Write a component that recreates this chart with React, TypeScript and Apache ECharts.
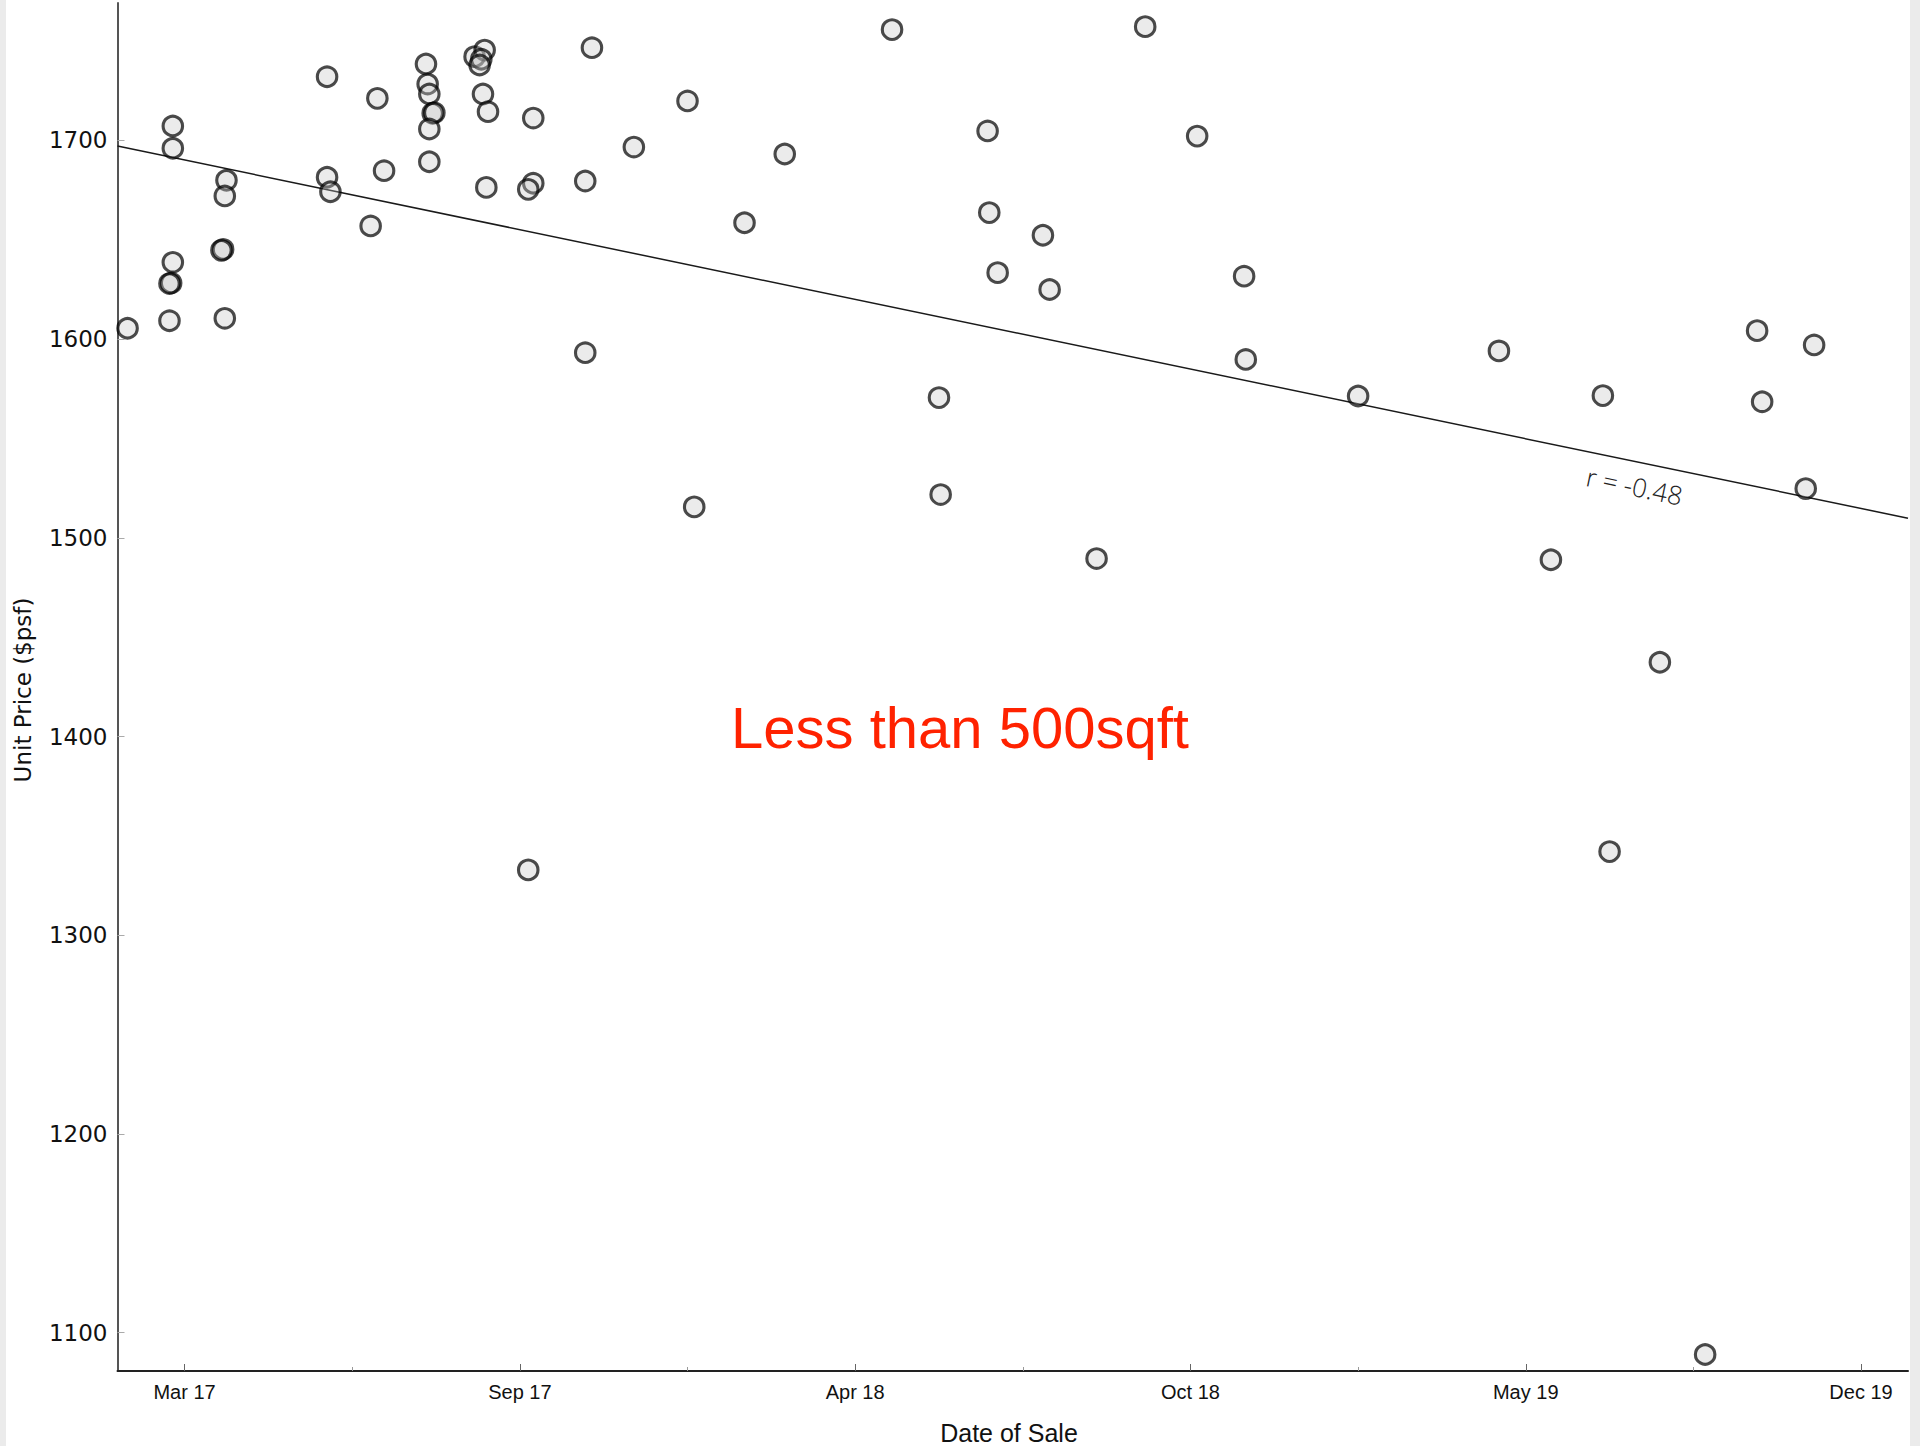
import React, { useEffect, useRef } from "react";
import * as echarts from "echarts";

// ---- data ----
const saleDates = [
  "2017-02-01", "2017-02-28", "2017-02-28", "2017-02-28", "2017-02-27", "2017-02-26", "2017-02-26",
  "2017-04-01", "2017-03-31", "2017-03-30", "2017-03-29", "2017-03-31",
  "2017-05-31", "2017-05-31", "2017-06-02", "2017-06-30", "2017-07-04", "2017-06-26",
  "2017-07-29", "2017-07-30", "2017-07-31", "2017-08-02", "2017-08-03", "2017-07-31", "2017-07-31",
  "2017-08-27", "2017-09-02", "2017-08-31", "2017-08-30", "2017-09-01", "2017-09-04", "2017-09-03",
  "2017-10-01", "2017-10-01", "2017-09-28", "2017-09-28",
  "2017-11-05", "2017-11-01", "2017-11-01", "2017-11-30",
  "2018-01-01", "2018-01-05", "2018-02-04", "2018-02-28",
  "2018-05-03", "2018-05-31", "2018-06-01", "2018-06-29", "2018-06-30", "2018-07-05",
  "2018-08-01", "2018-08-05", "2018-09-02", "2018-10-01", "2018-11-01", "2018-11-29", "2018-11-30",
  "2019-02-05", "2019-04-30", "2019-05-31", "2019-07-01", "2019-07-05", "2019-08-04", "2019-08-31",
  "2019-10-01", "2019-10-04", "2019-10-30", "2019-11-04",
];
const unitPrices = [
  1605.5, 1707.3, 1696.1, 1638.7, 1628.3, 1628.0, 1609.3,
  1680.0, 1672.1, 1645.2, 1644.7, 1610.5,
  1732.1, 1681.5, 1674.2, 1721.2, 1684.8, 1657.0,
  1738.5, 1728.4, 1723.4, 1713.7, 1714.0, 1705.8, 1689.3,
  1742.2, 1745.5, 1740.9, 1738.0, 1723.4, 1714.5, 1676.4,
  1711.3, 1678.5, 1675.4, 1332.9,
  1746.7, 1679.6, 1593.2, 1696.7,
  1719.9, 1515.6, 1658.6, 1693.2,
  1755.8, 1570.6, 1521.8, 1704.8, 1663.7, 1633.5,
  1652.3, 1625.0, 1489.6, 1757.3, 1702.2, 1631.7, 1589.8,
  1571.4, 1594.1, 1489.0, 1571.6, 1342.1, 1437.4, 1089.0,
  1604.3, 1568.5, 1524.8, 1597.1,
];
const trendPrices = [1697.2, 1509.9]; // regression line at the two ends of the date axis
const dateRange = ["2017-01-26", "2019-12-30"];
const priceRange = [1080.7, 1769.2];
const priceTicks = [1100, 1200, 1300, 1400, 1500, 1600, 1700];
const majorTickDates = ["2017-03-07", "2017-09-23", "2018-04-11", "2018-10-28", "2019-05-16", "2019-12-02"];
const majorTickLabels = ["Mar 17", "Sep 17", "Apr 18", "Oct 18", "May 19", "Dec 19"];
const minorTickDates = ["2017-06-15", "2018-01-01", "2018-07-20", "2019-02-05", "2019-08-24"];

const toDay = (iso: string) =>
  (Date.parse(iso + "T00:00:00Z") - Date.UTC(2017, 0, 1)) / 86400000;

export default function App() {
  const ref = useRef<HTMLDivElement>(null);

  useEffect(() => {
    document.body.style.margin = "0";
    const chart = echarts.init(ref.current as HTMLDivElement, null, { renderer: "svg" });

    const xMin = toDay(dateRange[0]);
    const xMax = toDay(dateRange[1]);
    const majorDays = majorTickDates.map(toDay);
    const minorDays = minorTickDates.map(toDay);
    const points = saleDates.map((d, i) => [toDay(d), unitPrices[i]]);

    const option: any = {
      animation: false,
      backgroundColor: "#ffffff",
      grid: { left: 117.5, right: 12, top: 3, bottom: 75, containLabel: false, outerBoundsMode: "none" },
      xAxis: [
        {
          type: "value",
          min: xMin,
          max: xMax,
          position: "bottom",
          axisLine: { show: true, onZero: false, lineStyle: { color: "#222222", width: 2 } },
          axisTick: {
            show: true,
            inside: true,
            length: 7,
            customValues: majorDays,
            lineStyle: { color: "#666666", width: 1 },
          },
          axisLabel: {
            show: true,
            customValues: majorDays,
            margin: 11,
            fontFamily: "Liberation Sans",
            fontSize: 20,
            color: "#111111",
            formatter: (v: number) => {
              const i = majorDays.findIndex((d) => Math.abs(d - v) < 0.5);
              return i >= 0 ? majorTickLabels[i] : "";
            },
          },
          splitLine: { show: false },
        },
        {
          type: "value",
          min: xMin,
          max: xMax,
          position: "bottom",
          axisLine: { show: false },
          axisLabel: { show: false },
          splitLine: { show: false },
          axisTick: {
            show: true,
            inside: true,
            length: 4,
            customValues: minorDays,
            lineStyle: { color: "#999999", width: 1 },
          },
        },
      ],
      yAxis: {
        type: "value",
        min: priceRange[0],
        max: priceRange[1],
        axisLine: { show: true, onZero: false, lineStyle: { color: "#555555", width: 2 } },
        axisTick: {
          show: true,
          inside: true,
          length: 7,
          customValues: priceTicks,
          lineStyle: { color: "#aaaaaa", width: 1 },
        },
        axisLabel: {
          customValues: priceTicks,
          margin: 10,
          fontFamily: "DejaVu Sans",
          fontSize: 23,
          color: "#111111",
          formatter: (v: number) => String(Math.round(v)),
        },
        splitLine: { show: false },
      },
      series: [
        {
          type: "line",
          data: [
            [xMin, trendPrices[0]],
            [xMax, trendPrices[1]],
          ],
          symbol: "none",
          silent: true,
          lineStyle: { color: "#1a1a1a", width: 1.5 },
          z: 1,
        },
        {
          type: "scatter",
          data: points,
          symbol: "circle",
          symbolSize: 19.5,
          itemStyle: {
            color: "rgba(195,195,195,0.42)",
            borderColor: "rgba(0,0,0,0.88)",
            borderWidth: 3.1,
          },
          z: 2,
        },
      ],
      graphic: [
        { type: "rect", shape: { x: 0, y: 0, width: 6, height: 1446 }, style: { fill: "#ebebeb" }, silent: true },
        { type: "rect", shape: { x: 1910, y: 0, width: 10, height: 1446 }, style: { fill: "#ebebeb" }, silent: true },
        {
          type: "text",
          x: 960,
          y: 727,
          style: {
            text: "Less than 500sqft",
            fontFamily: "Liberation Sans",
            fontSize: 58,
            fill: "#ff2200",
            align: "center",
            verticalAlign: "middle",
          },
        },
        {
          type: "text",
          x: 1634.5,
          y: 486,
          rotation: -0.207,
          style: {
            text: "r = -0.48",
            fontFamily: "Open Sans",
            fontWeight: 300,
            fontSize: 26,
            fill: "#222222",
            align: "center",
            verticalAlign: "middle",
          },
        },
        {
          type: "text",
          x: 23.3,
          y: 690,
          rotation: Math.PI / 2,
          style: {
            text: "Unit Price ($psf)",
            fontFamily: "DejaVu Sans",
            fontSize: 23,
            fill: "#111111",
            align: "center",
            verticalAlign: "middle",
          },
        },
        {
          type: "text",
          x: 1009,
          y: 1433,
          style: {
            text: "Date of Sale",
            fontFamily: "Liberation Sans",
            fontSize: 25,
            fill: "#111111",
            align: "center",
            verticalAlign: "middle",
          },
        },
      ],
    };

    chart.setOption(option);
    return () => {
      chart.dispose();
    };
  }, []);

  return <div ref={ref} style={{ width: 1920, height: 1446 }} />;
}
